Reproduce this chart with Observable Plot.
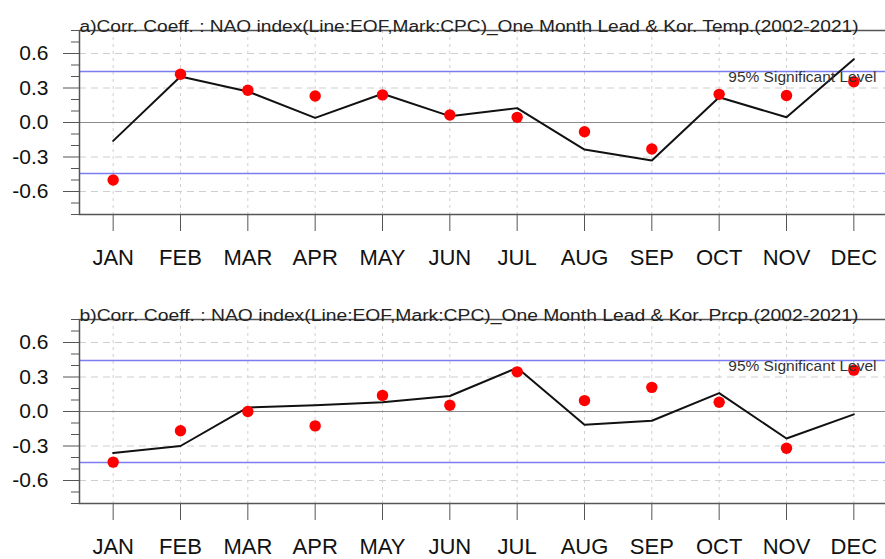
<!DOCTYPE html>
<html><head><meta charset="utf-8">
<script src="https://cdn.jsdelivr.net/npm/d3@7"></script>
<script src="https://cdn.jsdelivr.net/npm/@observablehq/plot@0.6"></script>
<style>
body{margin:0;background:#fff;overflow:hidden;width:885px;height:559px}
#chart svg{display:block;overflow:hidden}
</style></head><body><div id="chart"></div>
<script>
const months = ["JAN","FEB","MAR","APR","MAY","JUN","JUL","AUG","SEP","OCT","NOV","DEC"];
const tempEOF = [-0.16, 0.40, 0.27, 0.04, 0.25, 0.055, 0.125, -0.235, -0.33, 0.22, 0.045, 0.55];
const tempCPC = [-0.50, 0.42, 0.28, 0.23, 0.24, 0.065, 0.045, -0.08, -0.23, 0.245, 0.235, 0.355];
const prcpEOF = [-0.36, -0.30, 0.035, 0.055, 0.08, 0.135, 0.38, -0.115, -0.08, 0.16, -0.235, -0.025];
const prcpCPC = [-0.44, -0.168, 0.0, -0.125, 0.14, 0.055, 0.345, 0.095, 0.21, 0.08, -0.32, 0.36];
const titleA = "a)Corr. Coeff. : NAO index(Line:EOF,Mark:CPC)_One Month Lead & Kor. Temp.(2002-2021)";
const titleB = "b)Corr. Coeff. : NAO index(Line:EOF,Mark:CPC)_One Month Lead & Kor. Prcp.(2002-2021)";
const sigLevel = 0.444;
const sigLabel = "95% Significant Level";
const yMajor = [-0.6, -0.3, 0.0, 0.3, 0.6];
const yMinor = [-0.8, -0.7, -0.5, -0.4, -0.2, -0.1, 0.1, 0.2, 0.4, 0.5, 0.7, 0.8];
const yGrid = [-0.6, -0.3, 0.3, 0.6];

const FONT = "'Liberation Sans', Arial, Helvetica, sans-serif";
const AX = "#555";

function panel(title, eof, cpc, height, marginBottom) {
  const rows = months.map((m, i) => ({i: i + 1, m, eof: eof[i], cpc: cpc[i]}));
  const xs = rows.map(d => d.i);
  const svg = Plot.plot({
    width: 885, height,
    marginLeft: 79, marginRight: -2, marginTop: 30, marginBottom,
    style: {fontFamily: FONT, background: "#fff", color: "#222"},
    x: {type: "linear", domain: [0.5, 12.5], axis: null, label: null},
    y: {domain: [-0.8, 0.8], axis: null, label: null},
    marks: [
      Plot.ruleX(xs, {stroke: "#d0d0d0", strokeDasharray: "3,4"}),
      Plot.ruleY(yGrid, {stroke: "#cfcfcf", strokeDasharray: "7,5"}),
      Plot.ruleY([0], {stroke: "#8a8a8a", strokeWidth: 1.2}),
      Plot.ruleY([sigLevel, -sigLevel], {stroke: "#7d7df2", strokeWidth: 1.5}),
      Plot.line(rows, {x: "i", y: "eof", stroke: "#111", strokeWidth: 2}),
      Plot.dot(rows, {x: "i", y: "cpc", r: 5.7, fill: "#ff0000", stroke: "none"}),
      Plot.text([sigLabel], {y: [sigLevel], frameAnchor: "right", textAnchor: "end", dx: -11, dy: 6, fontSize: 15.5, fill: "#333"}),
      Plot.frame({stroke: AX, strokeWidth: 1.5}),
      Plot.axisY({ticks: yMinor, tickSize: 8, tickFormat: () => "", stroke: AX, label: null}),
      Plot.axisY({ticks: yMajor, tickSize: 16, tickPadding: 15, fontSize: 21, stroke: AX, fill: "#111", label: null, tickFormat: d => d.toFixed(1)}),
      Plot.axisX({ticks: xs, tickSize: 17, tickPadding: 18, fontSize: 22, stroke: AX, fill: "#111", label: null, tickFormat: d => months[d - 1]}),
      Plot.text([title], {frameAnchor: "top-left", textAnchor: "start", dy: -10, fontSize: 16, fill: "#222", className: "ttl"})
    ]
  });
  d3.select(svg).selectAll(".ttl text").attr("textLength", 779).attr("lengthAdjust", "spacingAndGlyphs");
  return svg;
}

const el = document.getElementById("chart");
el.appendChild(panel(titleA, tempEOF, tempCPC, 289, 75));
el.appendChild(panel(titleB, prcpEOF, prcpCPC, 270, 56));
</script></body></html>
